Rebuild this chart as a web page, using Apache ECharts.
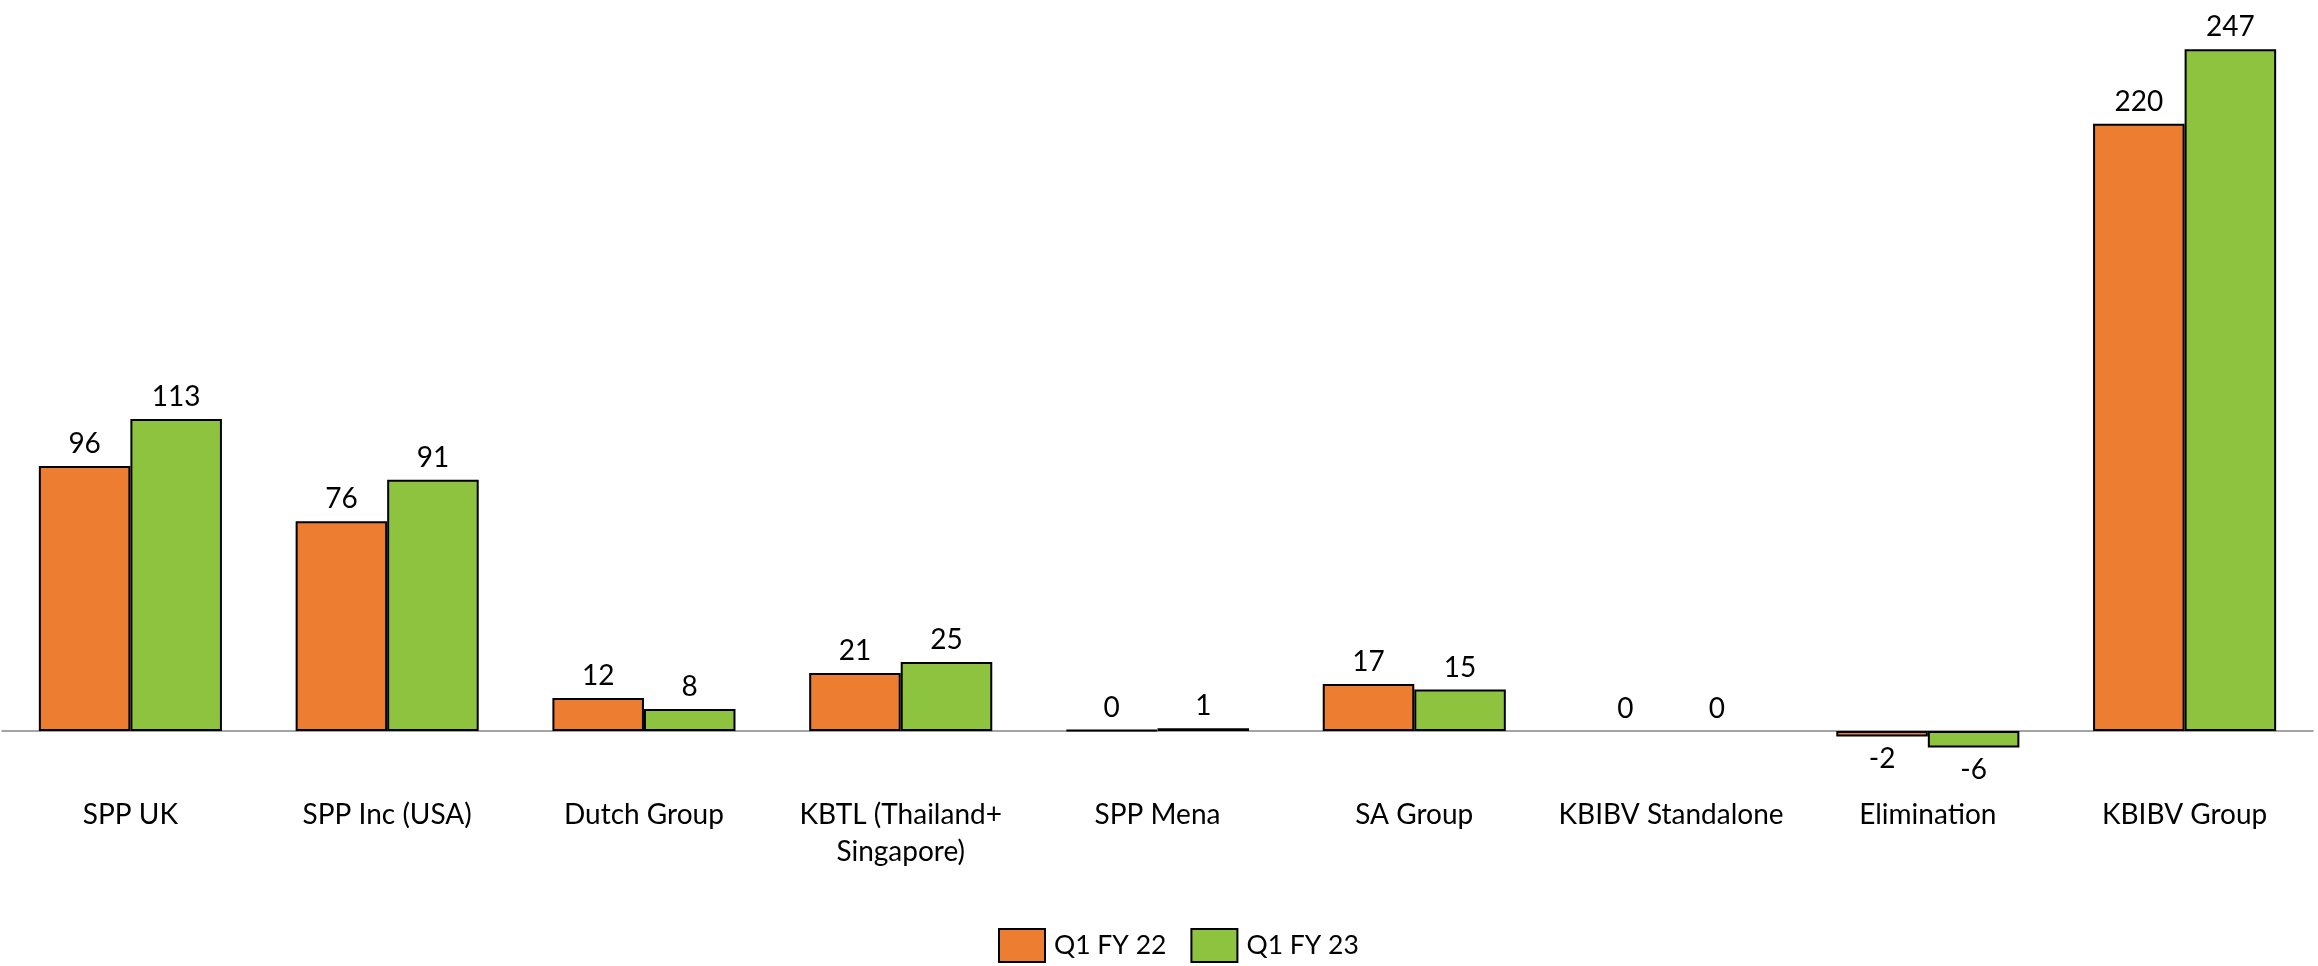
<!DOCTYPE html>
<html>
<head>
<meta charset="utf-8">
<script src="https://cdn.jsdelivr.net/npm/echarts@6/dist/echarts.min.js"></script>
<style>html,body{margin:0;padding:0;background:#fff;}#c{width:2318px;height:966px;}</style>
</head>
<body>
<div id="c"></div>
<script>
const categories = ['SPP UK', 'SPP Inc (USA)', 'Dutch Group', 'KBTL (Thailand+\nSingapore)', 'SPP Mena', 'SA Group', 'KBIBV Standalone', 'Elimination', 'KBIBV Group'];
const seriesNames = ['Q1 FY 22', 'Q1 FY 23'];
const q1fy22 = [96, 76, 12, 21, 0.3, 17, 0, -2, 220];
const q1fy23 = [113, 91, 8, 25, 1, 15, 0, -6, 247];
const colors = ['#ED7D31', '#8DC33F'];

const FONT = 'Lato';
function mkData(arr) {
  return arr.map(v => {
    const d = { value: v };
    if (v < 0) d.label = { position: 'bottom' };
    if (v === 0) d.itemStyle = { borderWidth: 0 };
    return d;
  });
}
const chart = echarts.init(document.getElementById('c'));
chart.setOption({
  animation: false,
  backgroundColor: '#ffffff',
  textStyle: { fontFamily: FONT },
  grid: { left: 2, right: 5, top: 41, height: 717.6, containLabel: false },
  legend: {
    left: 993, top: 923,
    icon: 'rect',
    itemWidth: 46, itemHeight: 33, itemGap: 24,
    textStyle: { fontFamily: FONT, fontSize: 26.5, color: '#000', padding: [0, 0, 0, 4] },
    data: seriesNames
  },
  xAxis: {
    type: 'category',
    data: categories,
    axisLine: { onZero: true, lineStyle: { color: '#868686', width: 1.5 } },
    axisTick: { show: false },
    axisLabel: { fontFamily: FONT, fontSize: 28, color: '#000', lineHeight: 37, margin: 38, verticalAlign: 'top', interval: 0 }
  },
  yAxis: {
    type: 'value', min: -10, max: 250,
    show: false,
    splitLine: { show: false }
  },
  series: [0, 1].map(i => ({
    name: seriesNames[i],
    type: 'bar',
    data: mkData(i === 0 ? q1fy22 : q1fy23),
    barGap: '0%',
    barCategoryGap: '28.7%',
    itemStyle: { color: colors[i], borderColor: '#000', borderWidth: 2 },
    label: { show: true, position: 'top', distance: 8, fontFamily: FONT, fontSize: 28, color: '#000',
      formatter: p => String(Math.round(p.value)) }
  }))
});
</script>
</body>
</html>
